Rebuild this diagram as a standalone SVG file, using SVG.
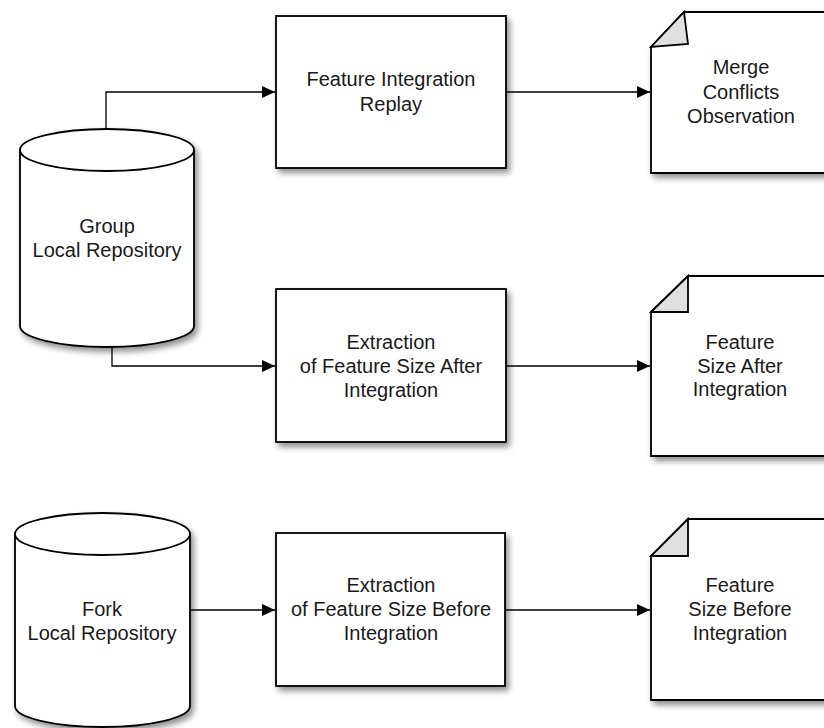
<svg xmlns="http://www.w3.org/2000/svg" width="824" height="728" viewBox="0 0 824 728">
<defs>
<filter id="sh" x="-20%" y="-20%" width="140%" height="140%">
<feGaussianBlur in="SourceAlpha" stdDeviation="3"/>
<feOffset dx="3" dy="4" result="b"/>
<feComponentTransfer><feFuncA type="linear" slope="0.45"/></feComponentTransfer>
<feMerge><feMergeNode/><feMergeNode in="SourceGraphic"/></feMerge>
</filter>
<marker id="arr" viewBox="0 0 13 12" refX="13" refY="6" markerWidth="13" markerHeight="12" markerUnits="userSpaceOnUse" orient="auto">
<path d="M0,0 L13,6 L0,12 Z" fill="#000"/>
</marker>
</defs>
<style>
.shape{fill:#fff;stroke:#000;stroke-width:1.8}
.fold{fill:#e0e0e0;stroke:#000;stroke-width:1.8;stroke-linejoin:miter}
.lbl{font-family:"Liberation Sans",Arial,sans-serif;font-size:20px;fill:#1a1a1a;text-anchor:middle}
.conn{fill:none;stroke:#000;stroke-width:1.3}
</style>
<rect width="824" height="728" fill="#fff"/>

<g id="connectors">
<path class="conn" d="M106,129 V92 H275" marker-end="url(#arr)"/>
<path class="conn" d="M112,347 V366 H275" marker-end="url(#arr)"/>
<path class="conn" d="M190,610 H275" marker-end="url(#arr)"/>
<path class="conn" d="M506,92 H650" marker-end="url(#arr)"/>
<path class="conn" d="M506,366 H650" marker-end="url(#arr)"/>
<path class="conn" d="M505,610 H650" marker-end="url(#arr)"/>
</g>

<g id="group-repo">
<path class="shape" filter="url(#sh)" d="M20,150 A87,21 0 0 1 194,150 V326 A87,21 0 0 1 20,326 Z"/>
<path class="shape" d="M20,150 A87,21 0 0 0 194,150"/>
<text class="lbl" x="107" y="233">Group</text>
<text class="lbl" x="107" y="257">Local Repository</text>
</g>

<g id="fork-repo">
<path class="shape" filter="url(#sh)" d="M15,534 A87.5,21 0 0 1 190,534 V706 A87.5,21 0 0 1 15,706 Z"/>
<path class="shape" d="M15,534 A87.5,21 0 0 0 190,534"/>
<text class="lbl" x="102" y="616">Fork</text>
<text class="lbl" x="102" y="640">Local Repository</text>
</g>

<g id="replay">
<rect class="shape" filter="url(#sh)" x="276" y="16" width="230" height="152"/>
<text class="lbl" x="391" y="86">Feature Integration</text>
<text class="lbl" x="391" y="111">Replay</text>
</g>

<g id="extract-after">
<rect class="shape" filter="url(#sh)" x="276" y="289" width="230" height="153"/>
<text class="lbl" x="391" y="349">Extraction</text>
<text class="lbl" x="391" y="373">of Feature Size After</text>
<text class="lbl" x="391" y="397">Integration</text>
</g>

<g id="extract-before">
<rect class="shape" filter="url(#sh)" x="276" y="533" width="229" height="153"/>
<text class="lbl" x="391" y="592">Extraction</text>
<text class="lbl" x="391" y="616">of Feature Size Before</text>
<text class="lbl" x="391" y="640">Integration</text>
</g>

<g id="merge-obs">
<path class="shape" filter="url(#sh)" d="M684,12 H830 V173 H651 V47 Z"/>
<path class="fold" d="M684,12 L688,44 L651,47 Z"/>
<text class="lbl" x="741" y="74">Merge</text>
<text class="lbl" x="741" y="99">Conflicts</text>
<text class="lbl" x="741" y="123">Observation</text>
</g>

<g id="size-after">
<path class="shape" filter="url(#sh)" d="M688,276 H830 V456 H651 V312 Z"/>
<path class="fold" d="M688,276 L688,312 L651,312 Z"/>
<text class="lbl" x="740" y="349">Feature</text>
<text class="lbl" x="740" y="373">Size After</text>
<text class="lbl" x="740" y="396">Integration</text>
</g>

<g id="size-before">
<path class="shape" filter="url(#sh)" d="M688,519 H830 V700 H651 V556 Z"/>
<path class="fold" d="M688,519 L688,556 L651,556 Z"/>
<text class="lbl" x="740" y="592">Feature</text>
<text class="lbl" x="740" y="616">Size Before</text>
<text class="lbl" x="740" y="640">Integration</text>
</g>
</svg>
